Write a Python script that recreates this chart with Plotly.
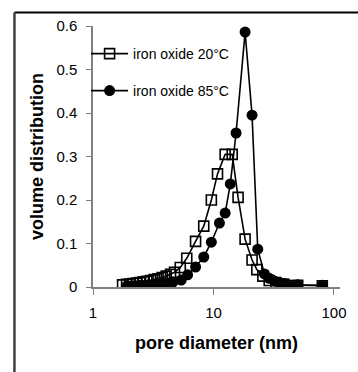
import plotly.graph_objects as go

# Data
d_20 = [1.76, 1.9, 2.02, 2.15, 2.3, 2.45, 2.62, 2.8, 3.0, 3.22, 3.47, 3.75, 4.05, 4.4, 4.75,
        5.3, 6.0, 7.1, 8.3, 9.6, 10.8, 12.5, 14.3, 16.0, 18.3, 20.9, 22.9, 25.7, 29, 33, 38, 50, 80]
v_20 = [0.005, 0.006, 0.007, 0.008, 0.009, 0.010, 0.012, 0.013, 0.015, 0.017, 0.019, 0.022, 0.025,
        0.029, 0.034, 0.045, 0.066, 0.105, 0.14, 0.20, 0.26, 0.305, 0.305, 0.206, 0.11, 0.062,
        0.04, 0.025, 0.015, 0.01, 0.007, 0.004, 0.003]

d_85 = [1.9, 2.05, 2.2, 2.35, 2.5, 2.7, 2.9, 3.1, 3.35, 3.6, 3.9, 4.2, 4.6, 5.4, 6.1, 7.1, 8.3,
        9.6, 11.2, 12.5, 13.8, 15.4, 18.3, 20.9, 23.3, 26.5, 29, 32, 35, 38, 42, 50, 80]
v_85 = [0.002, 0.002, 0.003, 0.003, 0.004, 0.004, 0.005, 0.005, 0.006, 0.007, 0.008, 0.009,
        0.011, 0.016, 0.028, 0.046, 0.069, 0.103, 0.147, 0.17, 0.237, 0.354, 0.586, 0.395,
        0.087, 0.03, 0.02, 0.014, 0.01, 0.008, 0.006, 0.005, 0.004]

name_20 = "iron oxide 20°C"
name_85 = "iron oxide 85°C"
x_title = "pore diameter (nm)"
y_title = "volume distribution"
x_ticks = [1, 10, 100]
y_ticks = [0, 0.1, 0.2, 0.3, 0.4, 0.5, 0.6]

FONT = "Arial, Liberation Sans, sans-serif"

fig = go.Figure()
fig.add_trace(go.Scatter(
    x=d_85, y=v_85, mode="lines+markers", name=name_85, legend="legend2",
    line=dict(color="black", width=1.6),
    marker=dict(symbol="circle", size=11, color="black"),
))
fig.add_trace(go.Scatter(
    x=d_20, y=v_20, mode="lines+markers", name=name_20, legend="legend",
    line=dict(color="black", width=1.6),
    marker=dict(symbol="square-open", size=10, color="black", line=dict(width=1.6)),
))

W, H = 358, 372
ml, mr, mt, mb = 93, 15, 26, 85
pw, ph = W - ml - mr, H - mt - mb

def px(xp):
    return (xp - ml) / pw

def py(yp):
    return (H - mb - yp) / ph

# outer frame (extends past the right and bottom edge of the image)
fig.add_shape(type="line", xref="paper", yref="paper",
              x0=px(13.5), x1=px(362), y0=py(12.5), y1=py(12.5),
              line=dict(color="black", width=2))
fig.add_shape(type="line", xref="paper", yref="paper",
              x0=px(13.5), x1=px(13.5), y0=py(12.5), y1=py(376),
              line=dict(color="#404040", width=2.5))

fig.update_layout(
    width=W, height=H,
    margin=dict(l=ml, r=mr, t=mt, b=mb, pad=0),
    paper_bgcolor="white", plot_bgcolor="white",
    font=dict(family=FONT, color="black", size=15),
    legend=dict(x=px(86), y=py(54), xanchor="left", yanchor="middle",
                font=dict(size=14, family=FONT), bgcolor="rgba(0,0,0,0)",
                borderwidth=0, tracegroupgap=0, itemwidth=37),
    legend2=dict(x=px(86), y=py(91), xanchor="left", yanchor="middle",
                 font=dict(size=14, family=FONT), bgcolor="rgba(0,0,0,0)",
                 borderwidth=0, tracegroupgap=0, itemwidth=37),
    showlegend=True,
)
fig.update_xaxes(
    type="log", range=[0, 2.05],
    tickvals=x_ticks, ticktext=[str(t) for t in x_ticks],
    ticks="outside", ticklen=6, tickcolor="#808080", tickwidth=1,
    showline=True, linecolor="#808080", linewidth=1.5,
    showgrid=False, zeroline=False,
    tickfont=dict(size=15), ticklabelstandoff=5,
    title=dict(text="<b>" + x_title + "</b>", font=dict(size=18), standoff=17),
)
fig.update_yaxes(
    range=[0, 0.6],
    tickvals=y_ticks, ticktext=["0" if t == 0 else f"{t:g}" for t in y_ticks],
    ticks="outside", ticklen=5, tickcolor="#808080", tickwidth=1,
    showline=True, linecolor="#808080", linewidth=1.5,
    showgrid=False, zeroline=False,
    tickfont=dict(size=15), ticklabelstandoff=6,
    title=dict(text="<b>" + y_title + "</b>", font=dict(size=18), standoff=8),
)

fig.write_html("out.html")
